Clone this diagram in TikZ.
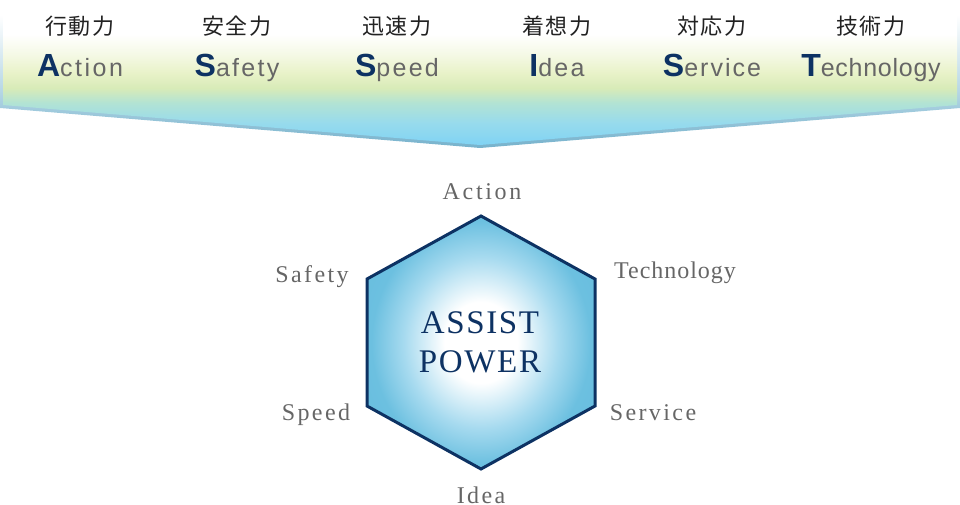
\documentclass[tikz,border=0pt]{standalone}
\usepackage{fontspec}
\setmainfont{Liberation Serif}
\newfontfamily\jpfont{Noto Sans CJK JP}
\newfontfamily\enfont{Liberation Sans}
\newfontfamily\hexfont{Liberation Serif}

\definecolor{navy}{HTML}{0D3263}
\definecolor{txtgray}{HTML}{666666}
\definecolor{jpblack}{HTML}{222222}
\definecolor{bnA}{HTML}{80D3F4}
\definecolor{bnB}{HTML}{98DBEC}
\definecolor{bnC}{HTML}{B2E3D4}
\definecolor{bnD}{HTML}{D8EBB8}
\definecolor{bnE}{HTML}{E8F2C8}
\definecolor{bnF}{HTML}{F5F9E6}
\definecolor{rimA}{HTML}{76B2CC}
\definecolor{rimB}{HTML}{B8D8E6}
\definecolor{hexmid}{HTML}{A6DAEF}
\definecolor{hexedge}{HTML}{6CC0E0}
\definecolor{hexdeep}{HTML}{5AB5DA}

% banner and hexagon shadings
\pgfdeclareverticalshading{bannerfill}{100bp}{color(0bp)=(bnA); color(25bp)=(bnA);
  color(32.8bp)=(bnB); color(39.5bp)=(bnC); color(44.6bp)=(bnD); color(49.7bp)=(bnE);
  color(56.4bp)=(bnF); color(63.2bp)=(white); color(75bp)=(white); color(100bp)=(white)}
\pgfdeclareverticalshading{bannerrim}{100bp}{color(0bp)=(rimA); color(25bp)=(rimA);
  color(45bp)=(rimB); color(70bp)=(white); color(100bp)=(white)}
\pgfdeclareradialshading{hexfill}{\pgfpoint{0bp}{0bp}}{color(0bp)=(white); color(8bp)=(white);
  color(17bp)=(hexmid); color(24bp)=(hexedge); color(50bp)=(hexdeep)}

\begin{document}
\begin{tikzpicture}[x=1pt,y=-1pt]
\tikzstyle{every node}+=[inner sep=0pt]
\tikzstyle{jptext}=[font=\jpfont\fontsize{22}{22}\selectfont, text=jpblack, anchor=base]
\tikzstyle{entext}=[font=\enfont\fontsize{25}{25}\selectfont, text=txtgray, anchor=base]
\tikzstyle{hexlabel}=[font=\hexfont\fontsize{24}{24}\selectfont, text=txtgray, anchor=base]
\tikzstyle{coretext}=[font=\hexfont\fontsize{33}{33}\selectfont, text=navy, anchor=base]
\useasboundingbox (0,0) rectangle (960,505);

% banner
\shade [shading=bannerrim] (0,0) -- (960,0) -- (960,108) -- (480,148) -- (0,108) -- cycle;
\shade [shading=bannerfill] (3,0) -- (957,0) -- (957,105) -- (480,145) -- (3,105) -- cycle;

\foreach \i/\x/\jp/\cap/\rest/\ls in {1/80/行動力/A/ction/10, 2/237/安全力/S/afety/9, 3/397/迅速力/S/peed/9,
    4/557/着想力/I/dea/9, 5/712/対応力/S/ervice/8, 6/871/技術力/T/echnology/3}
{
  \node [jptext] (jp\i) at (\x,35) {\addfontfeature{LetterSpace=8}\jp};
  \node [entext] (en\i) at (\x,77) {{\bfseries\color{navy}\fontsize{32}{32}\selectfont\cap}\addfontfeature{LetterSpace=\ls}\rest};
}

% hexagon
\coordinate (top) at (481,216);
\coordinate (upleft) at (367,279);
\coordinate (lowleft) at (367,406);
\coordinate (bottom) at (481,469);
\coordinate (lowright) at (595,406);
\coordinate (upright) at (595,279);
\shade [shading=hexfill] (top) -- (upleft) -- (lowleft) -- (bottom) -- (lowright) -- (upright) -- cycle;
\draw [navy, line width=3pt, line join=miter] (top) -- (upleft) -- (lowleft) -- (bottom) -- (lowright) -- (upright) -- cycle;

\node [coretext] (assist) at (480,333) {\addfontfeature{LetterSpace=5}ASSIST};
\node [coretext] (power) at (480,372) {\addfontfeature{LetterSpace=5}POWER};

\node [hexlabel] (action) at (482,200) {\addfontfeature{LetterSpace=11}Action};
\node [hexlabel] (safety) at (312,282) {\addfontfeature{LetterSpace=10}Safety};
\node [hexlabel] (technology) at (675,278) {\addfontfeature{LetterSpace=4}Technology};
\node [hexlabel] (speed) at (316,420) {\addfontfeature{LetterSpace=10}Speed};
\node [hexlabel] (service) at (653,420) {\addfontfeature{LetterSpace=10}Service};
\node [hexlabel] (idea) at (481,503) {\addfontfeature{LetterSpace=10}Idea};
\end{tikzpicture}
\end{document}
